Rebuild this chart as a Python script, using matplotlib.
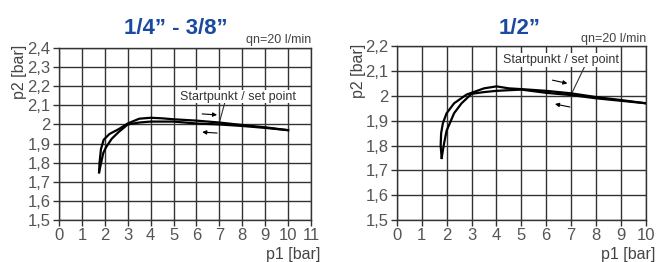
import matplotlib
matplotlib.use("Agg")
import matplotlib.pyplot as plt
from matplotlib import font_manager

# font: a narrow sans if available
names = {f.name for f in font_manager.fontManager.ttflist}
narrow = "Liberation Sans Narrow" if "Liberation Sans Narrow" in names else "Liberation Sans"
plt.rcParams["font.family"] = [narrow, "DejaVu Sans"]

# left chart: 1/4" - 3/8"
left_title = "1/4\u201d - 3/8\u201d"
left_up_x = [1.75, 1.77, 1.83, 1.95, 2.2, 2.6, 3.0, 3.5, 4.0, 4.5, 5.0, 6.0, 7.0, 8.0, 9.0, 10.0]
left_up_y = [1.75, 1.80, 1.87, 1.92, 1.95, 1.975, 2.005, 2.03, 2.035, 2.032, 2.027, 2.02, 2.01, 1.997, 1.985, 1.97]
left_down_x = [1.75, 1.84, 1.93, 2.05, 2.3, 2.6, 3.0, 3.5, 4.0, 5.0, 6.0, 7.0, 8.0, 9.0, 10.0]
left_down_y = [1.75, 1.80, 1.85, 1.88, 1.925, 1.96, 2.0, 2.01, 2.015, 2.015, 2.005, 2.0, 1.992, 1.982, 1.97]
left_xticks = list(range(0, 12))
left_yticks = [1.5, 1.6, 1.7, 1.8, 1.9, 2.0, 2.1, 2.2, 2.3, 2.4]

# right chart: 1/2"
right_title = "1/2\u201d"
right_up_x = [1.8, 1.76, 1.78, 1.85, 2.0, 2.3, 2.8, 3.5, 4.0, 4.5, 5.0, 6.0, 7.0, 8.0, 9.0, 10.0]
right_up_y = [1.75, 1.80, 1.85, 1.89, 1.93, 1.97, 2.005, 2.03, 2.038, 2.03, 2.027, 2.02, 2.01, 1.995, 1.983, 1.97]
right_down_x = [1.8, 1.85, 1.9, 2.0, 2.3, 2.6, 3.0, 3.5, 4.0, 5.0, 6.0, 7.0, 8.0, 9.0, 10.0]
right_down_y = [1.75, 1.78, 1.81, 1.86, 1.93, 1.97, 2.008, 2.015, 2.02, 2.025, 2.012, 2.003, 1.99, 1.98, 1.97]
right_xticks = list(range(0, 11))
right_yticks = [1.5, 1.6, 1.7, 1.8, 1.9, 2.0, 2.1, 2.2]

def fmt(v):
    s = "%g" % v
    return s.replace(".", ",")

def draw(ax, ux, uy, dx, dy, xticks, yticks, title, tx, ty, arrows, note, leader, qn_y):
    ax.set_xlim(xticks[0], xticks[-1])
    ax.set_ylim(yticks[0], yticks[-1])
    ax.set_xticks(xticks)
    ax.set_yticks(yticks)
    ax.set_xticklabels([fmt(v) for v in xticks])
    ax.set_yticklabels([fmt(v) for v in yticks])
    ax.grid(True, color="#333333", linewidth=1.0)
    for s in ax.spines.values():
        s.set_color("#333333")
        s.set_linewidth(1.0)
    ax.tick_params(length=4, width=1.0, color="#333333", labelcolor="#555555",
                   labelsize=12, pad=2)
    ax.plot(ux, uy, color="black", linewidth=1.6, zorder=3)
    ax.plot(dx, dy, color="black", linewidth=1.6, zorder=3)
    # direction arrows
    (a1, a2) = arrows
    ax.annotate("", xy=a1[1], xytext=a1[0],
                arrowprops=dict(arrowstyle="-|>", color="black", lw=0.8,
                                mutation_scale=6, shrinkA=0, shrinkB=0))
    ax.annotate("", xy=a2[1], xytext=a2[0],
                arrowprops=dict(arrowstyle="-|>", color="black", lw=0.8,
                                mutation_scale=6, shrinkA=0, shrinkB=0))
    ax.text(note[0], note[1], "Startpunkt / set point", ha="center", va="center",
            fontsize=9, color="#333333",
            bbox=dict(facecolor="white", edgecolor="none", pad=0.5))
    ax.plot([leader[0][0], leader[1][0]], [leader[0][1], leader[1][1]],
            color="#333333", linewidth=0.8)
    ax.text(xticks[-1], qn_y, "qn=20 l/min", ha="right", va="bottom",
            fontsize=9, color="#444444")
    ax.text(tx, ty, title, transform=ax.transAxes, ha="center", va="bottom",
            fontsize=16, fontweight="bold", color="#1a4aa0")
    ax.set_ylabel("p2 [bar]", fontsize=11.5, color="#444444", labelpad=2)
    ax.yaxis.set_label_coords(-0.125, 0.86)
    ax.set_xlabel("p1 [bar]", fontsize=11.5, color="#444444", labelpad=0)
    ax.xaxis.set_label_coords(0.93, -0.155)

fig = plt.figure(figsize=(6.57, 2.62), dpi=100)
ax1 = fig.add_axes([0.0898, 0.160, 0.3836, 0.657])
ax2 = fig.add_axes([0.604, 0.160, 0.379, 0.664])

draw(ax1, left_up_x, left_up_y, left_down_x, left_down_y, left_xticks, left_yticks,
     left_title, 0.464, 1.05,
     (((6.25, 2.055), (6.9, 2.05)), ((6.9, 1.955), (6.25, 1.96))),
     (7.8, 2.145), ((7.25, 2.12), (7.0, 2.01)), 2.41)
draw(ax2, right_up_x, right_up_y, right_down_x, right_down_y, right_xticks, right_yticks,
     right_title, 0.494, 1.04,
     (((6.25, 2.063), (6.85, 2.05)), ((6.95, 1.955), (6.35, 1.967))),
     (6.6, 2.145), ((7.6, 2.13), (7.05, 2.015)), 2.205)

fig.savefig("out.png", dpi=100)
